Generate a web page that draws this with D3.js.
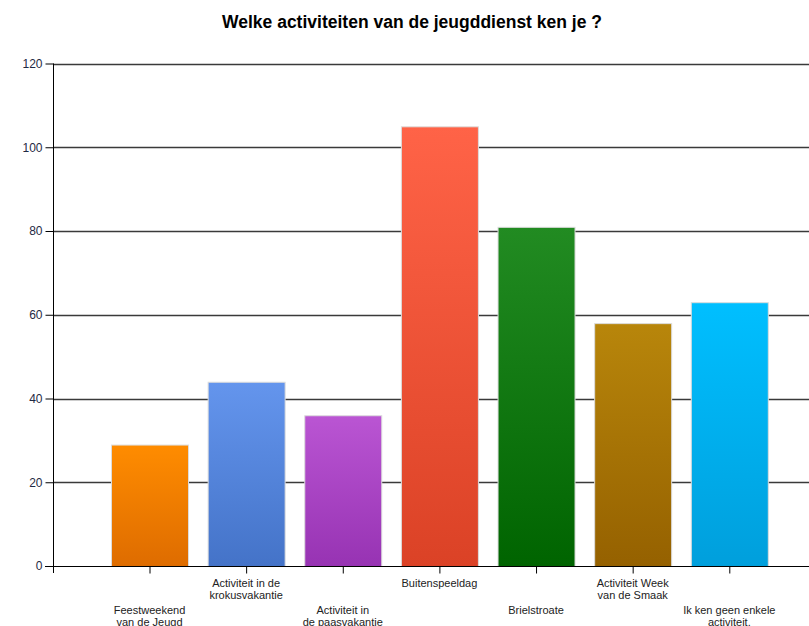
<!DOCTYPE html>
<html>
<head>
<meta charset="utf-8">
<script src="https://cdn.jsdelivr.net/npm/d3@7"></script>
<style>
  html, body { margin: 0; padding: 0; background: #fff; }
  svg { display: block; }
</style>
</head>
<body>
<svg id="chart" width="809" height="626"></svg>
<script>
const categories = [
  ["Feestweekend", "van de Jeugd"],
  ["Activiteit in de", "krokusvakantie"],
  ["Activiteit in", "de paasvakantie"],
  ["Buitenspeeldag"],
  ["Brielstroate"],
  ["Activiteit Week", "van de Smaak"],
  ["Ik ken geen enkele", "activiteit."]
];
const values = [29, 44, 36, 105, 81, 58, 63];
const colorsTop = ["#FF8C00", "#6495ED", "#BA55D3", "#FF6347", "#228B22", "#B8860B", "#00BFFF"];
const colorsBottom = ["#DE6C00", "#4473C8", "#9733B3", "#DB4226", "#006400", "#956100", "#009FDC"];
const yTicks = [0, 20, 40, 60, 80, 100, 120];
const title = "Welke activiteiten van de jeugddienst ken je ?";

const svg = d3.select("#chart");
const x0 = 53, plotTop = 63.5, plotBottom = 566;
const keys = categories.map((c, i) => i);
const x = d3.scalePoint().domain(keys).range([149.5, 729.3]);
const y = d3.scaleLinear().domain([0, 120]).range([plotBottom, plotTop]);
const barW = 77;

// gradients
const defs = svg.append("defs");
keys.forEach(i => {
  const g = defs.append("linearGradient").attr("id", "g" + i)
    .attr("x1", 0).attr("y1", 0).attr("x2", 0).attr("y2", 1);
  g.append("stop").attr("offset", "0%").attr("stop-color", colorsTop[i]);
  g.append("stop").attr("offset", "100%").attr("stop-color", colorsBottom[i]);
});

// title
svg.append("text")
  .attr("x", 412).attr("y", 28)
  .attr("text-anchor", "middle")
  .style("font-family", "'Liberation Sans', Arial, sans-serif")
  .style("font-weight", "bold")
  .style("font-size", "17.5px")
  .attr("fill", "#000")
  .text(title);

// gridlines
svg.append("g").selectAll("line").data(yTicks.filter(d => d > 0)).join("line")
  .attr("x1", x0).attr("x2", 809)
  .attr("y1", d => Math.round(y(d)) + 0.5).attr("y2", d => Math.round(y(d)) + 0.5)
  .attr("stroke", "#3a3a3a").attr("stroke-width", 1.5);

// bars
svg.append("g").selectAll("rect").data(keys).join("rect")
  .attr("x", i => x(i) - barW / 2 + 0.5)
  .attr("y", i => y(values[i]) + 0.5)
  .attr("width", barW)
  .attr("height", i => y(0) - y(values[i]))
  .attr("fill", i => `url(#g${i})`)
  .attr("stroke", "#dcdcdc").attr("stroke-width", 1);

// y axis
const yAxis = d3.axisLeft(y).tickValues(yTicks).tickSize(8).tickPadding(3);
const gy = svg.append("g").attr("transform", `translate(${x0 + 0.5},0)`).call(yAxis);
gy.select(".domain").remove();
gy.selectAll(".tick line").attr("stroke", "#000");
gy.selectAll(".tick text")
  .style("font-family", "'Liberation Sans', Arial, sans-serif")
  .style("font-size", "12px").attr("fill", "#1f2a44");
svg.append("line").attr("x1", x0 + 0.5).attr("x2", x0 + 0.5)
  .attr("y1", plotTop).attr("y2", plotBottom + 7).attr("stroke", "#000");

// x axis
const xAxis = d3.axisBottom(x).tickSize(7).tickFormat(() => "");
const gx = svg.append("g").attr("transform", `translate(0,${plotBottom + 0.5})`).call(xAxis);
gx.select(".domain").remove();
gx.selectAll(".tick line").attr("stroke", "#000");
svg.append("line").attr("x1", x0 - 8).attr("x2", 809)
  .attr("y1", plotBottom + 0.5).attr("y2", plotBottom + 0.5)
  .attr("stroke", "#000").attr("stroke-width", 1.2);

// x labels, staggered
const lab = svg.append("g").selectAll("text").data(keys).join("text")
  .attr("text-anchor", "middle")
  .style("font-family", "'Liberation Sans', Arial, sans-serif")
  .style("font-size", "11px")
  .attr("fill", "#222")
  .attr("transform", i => `translate(${x(i)},${i % 2 === 1 ? 587 : 614})`);
lab.selectAll("tspan").data(i => categories[i]).join("tspan")
  .attr("x", 0).attr("dy", (d, j) => j === 0 ? 0 : 12)
  .text(d => d);
</script>
</body>
</html>
